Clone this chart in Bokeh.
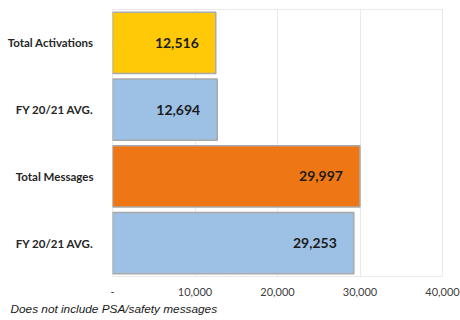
from bokeh.plotting import figure
from bokeh.models import ColumnDataSource, FixedTicker, Title, Range1d, NumeralTickFormatter
from bokeh.core.properties import value
from bokeh.embed import file_html
from bokeh.resources import INLINE

# Data
categories = ["Total Activations", "FY 20/21 AVG.", "Total Messages", "FY 20/21 AVG."]
values = [12516, 12694, 29997, 29253]
colors = ["#FFC907", "#9DC0E5", "#EF7614", "#9DC0E5"]
x_ticks = [0, 10000, 20000, 30000, 40000]
footnote = "Does not include PSA/safety messages"

positions = [4, 3, 2, 1]
labels = [f"{v:,}" for v in values]

source = ColumnDataSource(dict(y=positions, right=values, color=colors, label=labels))

p = figure(width=460, height=320, output_backend="svg", toolbar_location=None,
           x_range=Range1d(0, 40000), y_range=Range1d(0.5, 4.5),
           min_border_left=112, min_border_right=18, min_border_top=9, min_border_bottom=44)

p.hbar(y="y", left=0, right="right", height=0.92, fill_color="color",
       line_color="#a9a9a9", line_width=1.5, source=source)

p.text(x="right", y="y", text="label", source=source, x_offset=-17,
       text_align="right", text_baseline="middle", text_font=value("Lato"),
       text_font_size="14px", text_font_style="bold", text_color="#1c1c1c")

# x axis: accounting-style numbers, zero shown as a dash
p.xaxis.ticker = FixedTicker(ticks=x_ticks)
p.xaxis.formatter = NumeralTickFormatter(format="0,0")
p.xaxis.major_label_overrides = {0: "-"}
p.xaxis.axis_line_color = None
p.xaxis.major_tick_line_color = None
p.xaxis.minor_tick_line_color = None
p.xaxis.major_label_text_font = "Lato"
p.xaxis.major_label_text_font_size = "11px"
p.xaxis.major_label_text_color = "#404040"
p.xaxis.major_label_standoff = 5

# y axis: category names
p.yaxis.ticker = FixedTicker(ticks=positions)
p.yaxis.major_label_overrides = {pos: name for pos, name in zip(positions, categories)}
p.yaxis.axis_line_color = None
p.yaxis.major_tick_line_color = None
p.yaxis.minor_tick_line_color = None
p.yaxis.major_label_text_font = "Lato"
p.yaxis.major_label_text_font_size = "11.5px"
p.yaxis.major_label_text_font_style = "bold"
p.yaxis.major_label_text_color = "#262626"
p.yaxis.major_label_standoff = 13

p.ygrid.grid_line_color = None
p.xgrid.grid_line_color = "#d4d4d4"
p.xgrid.grid_line_dash = "1 1"
p.outline_line_color = "#d4d4d4"
p.outline_line_dash = "1 1"

# footnote under the axis
note = Title(text=footnote, align="left", offset=-102, standoff=3,
             text_font="Liberation Sans", text_font_size="11.8px", text_font_style="italic",
             text_color="#1a1a1a")
p.add_layout(note, "below")

open("out.html", "w").write(file_html(p, INLINE))
